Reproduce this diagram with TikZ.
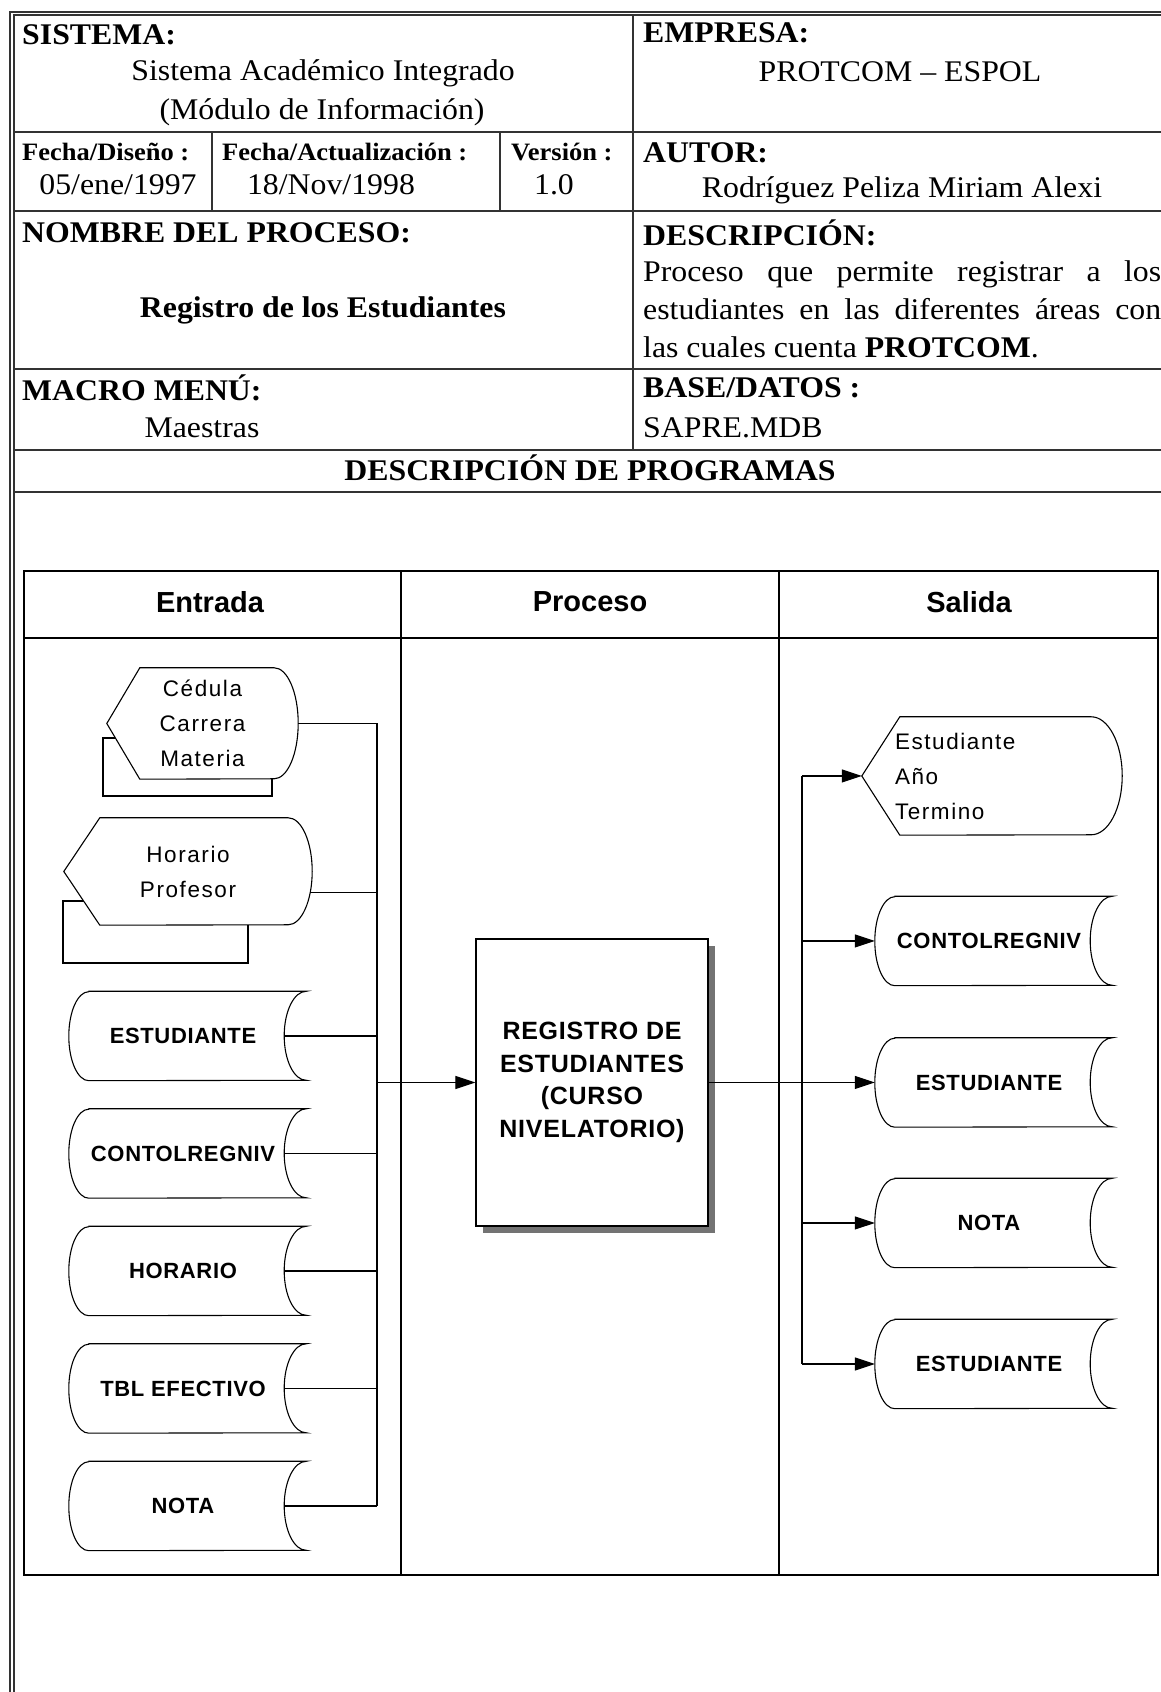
\documentclass[tikz,border=0pt]{standalone}
\usepackage{fontspec}
\setmainfont{Liberation Serif}[FakeStretch=1.06]
\newfontfamily\diafont{Liberation Sans}
\newfontfamily\labfont{Liberation Sans}[LetterSpace=3]
\newfontfamily\lightfont{Liberation Sans}[LetterSpace=7]
\usetikzlibrary{calc,arrows.meta,positioning,shadows}
\pgfdeclarelayer{background}
\pgfsetlayers{background,main}
\newcommand\tabbig{\fontsize{30}{38}\selectfont}
\newcommand\tabsmall{\fontsize{25}{30}\selectfont}
\newcommand\headfont{\diafont\bfseries\fontsize{29}{34}\selectfont}
\newcommand\storefont{\labfont\bfseries\fontsize{22}{27}\selectfont}
\newcommand\procfont{\labfont\bfseries\fontsize{25}{32.7}\selectfont}
\newcommand\dispfont{\lightfont\fontsize{22.5}{35}\selectfont}
\tikzset{
  grid/.style={line width=1.6pt,black!80},
  lane/.style={line width=1.3pt},
  link/.style={line width=1.1pt},
  arr/.style={link,-{Triangle[length=20pt,width=13pt]}},
  outline/.style={line width=1.1pt,fill=white},
  tl/.style={inner sep=0pt,anchor=west,font=\tabbig},
  tc/.style={inner sep=0pt,font=\tabbig},
  ts/.style={inner sep=0pt,anchor=west,font=\tabsmall\bfseries},
  head/.style={inner sep=0pt,font=\headfont},
  store/.style={inner sep=0pt,minimum width=237pt,minimum height=89pt,font=\storefont,
    execute at begin node={\hspace*{-9pt}}},
  disp/.style={inner sep=0pt,align=center,font=\dispfont},
  procbox/.style={draw,line width=1.2pt,fill=white,minimum width=232pt,minimum height=287pt,
    align=center,font=\procfont,
    drop shadow={shadow xshift=7pt,shadow yshift=-7pt,fill=black!55,opacity=1}}
}
% storage outline round a node
\newcommand\storeshape[1]{%
  \draw[outline] ($(#1.north west)+(20,0)$) -- (#1.north east)
    arc[start angle=90,end angle=270,x radius=22,y radius=44.5]
    -- ($(#1.south west)+(20,0)$)
    arc[start angle=270,end angle=90,x radius=20,y radius=44.5] -- cycle;}
% display outline round a node
\newcommand\dispshape[4]{%
  \draw[outline] (#1.west) -- ($(#1.north west)+(#2,0)$) -- ($(#1.north east)+(-#3,0)$)
    arc[start angle=90,end angle=-90,x radius=#3,y radius=#4]
    -- ($(#1.south west)+(#2,0)$) -- cycle;}
\begin{document}
\begin{tikzpicture}[x=1pt,y=1pt]
\useasboundingbox (0,0) rectangle (1161,1692);
\begin{pgfonlayer}{background}
\fill[white] (0,0) rectangle (1161,1692);
\end{pgfonlayer}

% page frame and header grid
\draw[grid] (10,-5) -- (10,1680) -- (1170,1680);
\draw[grid] (14,-5) -- (14,1677) -- (1170,1677);
\foreach \yy in {1560,1481,1323,1242,1200}{\draw[grid] (14,\yy) -- (1170,\yy);}
\draw[grid] (633,1677) -- (633,1242);
\draw[grid] (212,1560) -- (212,1481);
\draw[grid] (500,1560) -- (500,1481);

% header texts
\node[tl] (sistema) at (22,1657) {\textbf{SISTEMA:}};
\node[tc] (sisname) at (323,1619) {Sistema Académico Integrado};
\node[tc] (sismod) at (322,1580) {(Módulo de Información)};
\node[tl] (empresa) at (643,1659) {\textbf{EMPRESA:}};
\node[tc] (empname) at (900,1620) {PROTCOM -- ESPOL};
\node[ts] (fdis) at (22,1540) {Fecha/Diseño :};
\node[ts] (fact) at (222,1540) {Fecha/Actualización :};
\node[ts] (vers) at (511,1540) {Versión :};
\node[tc] (fdisv) at (118,1507) {05/ene/1997};
\node[tc] (factv) at (331,1507) {18/Nov/1998};
\node[tc] (versv) at (554,1507) {1.0};
\node[tl] (autor) at (643,1539) {\textbf{AUTOR:}};
\node[tc] (autorv) at (902,1502) {Rodríguez Peliza Miriam Alexi};
\node[tl] (nombre) at (22,1459) {\textbf{NOMBRE DEL PROCESO:}};
\node[tc] (nombrev) at (323,1382) {\textbf{Registro de los Estudiantes}};
\node[tl] (descr) at (643,1459) {\textbf{DESCRIPCIÓN:}};
\node[inner sep=0pt,anchor=north west,text width=518pt,align=justify,font=\tabbig] (descrv) at (643,1431)
  {Proceso que permite registrar a los\linebreak estudiantes en las diferentes áreas con\linebreak las cuales cuenta \textbf{PROTCOM}.};
\node[tl] (macro) at (22,1304) {\textbf{MACRO MENÚ:}};
\node[tc] (macrov) at (202,1264) {Maestras};
\node[tl] (base) at (643,1304) {\textbf{BASE/DATOS :}};
\node[tl] (basev) at (643,1264) {SAPRE.MDB};
\node[tc] (descprog) at (590,1224) {\textbf{DESCRIPCIÓN DE PROGRAMAS}};

% diagram frame
\draw[lane] (24,117) rectangle (1158,1121);
\draw[lane] (24,1054) -- (1158,1054);
\draw[lane] (401,117) -- (401,1121);
\draw[lane] (779,117) -- (779,1121);
\node[head] (hentrada) at (210,1090) {Entrada};
\node[head] (hproceso) at (590,1090) {Proceso};
\node[head] (hsalida) at (969,1090) {Salida};

% inputs
\node[disp,minimum width=191pt,minimum height=111pt] (cedula) at (202.5,968.5) {Cédula\\Carrera\\Materia};
\node[disp,minimum width=248pt,minimum height=107pt] (horario) at (188,820.5) {Horario\\Profesor};
\foreach \i/\txt/\yy in {1/ESTUDIANTE/656,2/CONTOLREGNIV/538.5,3/HORARIO/421,4/TBL EFECTIVO/303.5,5/NOTA/186}
  {\node[store] (in\i) at (187.5,\yy) {\txt};}

% process
\node[procbox] (proc) at (592,609.5) {REGISTRO DE\\ESTUDIANTES\\(CURSO\\NIVELATORIO)};

% outputs
\node[disp,minimum width=260pt,minimum height=118pt] (salest) at (992,916) {};
\node[disp,align=left,anchor=west] (salesttxt) at ($(salest.west)+(33,0)$) {Estudiante\\Año\\Termino};
\foreach \i/\txt/\yy in {1/CONTOLREGNIV/751,2/ESTUDIANTE/609.5,3/NOTA/469,4/ESTUDIANTE/328}
  {\node[store] (out\i) at (993.5,\yy) {\txt};}

\begin{pgfonlayer}{background}
\draw[outline] (103,896) rectangle (272,954);
\dispshape{cedula}{33}{24}{55.5}
\draw[outline] (63,729) rectangle (248,791);
\dispshape{horario}{36}{24}{53.5}
\dispshape{salest}{38}{31}{59}
\foreach \i in {1,...,5}{\storeshape{in\i}}
\foreach \i in {1,...,4}{\storeshape{out\i}}
\end{pgfonlayer}

% connectors
\coordinate (ibus) at (377,0);
\coordinate (obus) at (802,0);
\coordinate (horout) at ($(horario.east)+(-2,-21)$);
\draw[link] (cedula.east) -- (cedula.east -| ibus) -- (in5.east -| ibus);
\draw[link] (horout) -- (horout -| ibus);
\foreach \i in {1,...,5}{\draw[link] ($(in\i.east)+(-22,0)$) -- (in\i.east -| ibus);}
\draw[arr] (proc.west -| ibus) -- (proc.west);
\draw[link] (proc.east) -- (out2.west -| obus);
\draw[link] (salest.west -| obus) -- (out4.west -| obus);
\draw[arr] (salest.west -| obus) -- (salest.west);
\foreach \i in {1,...,4}{\draw[arr] (out\i.west -| obus) -- (out\i.west);}
\end{tikzpicture}
\end{document}
